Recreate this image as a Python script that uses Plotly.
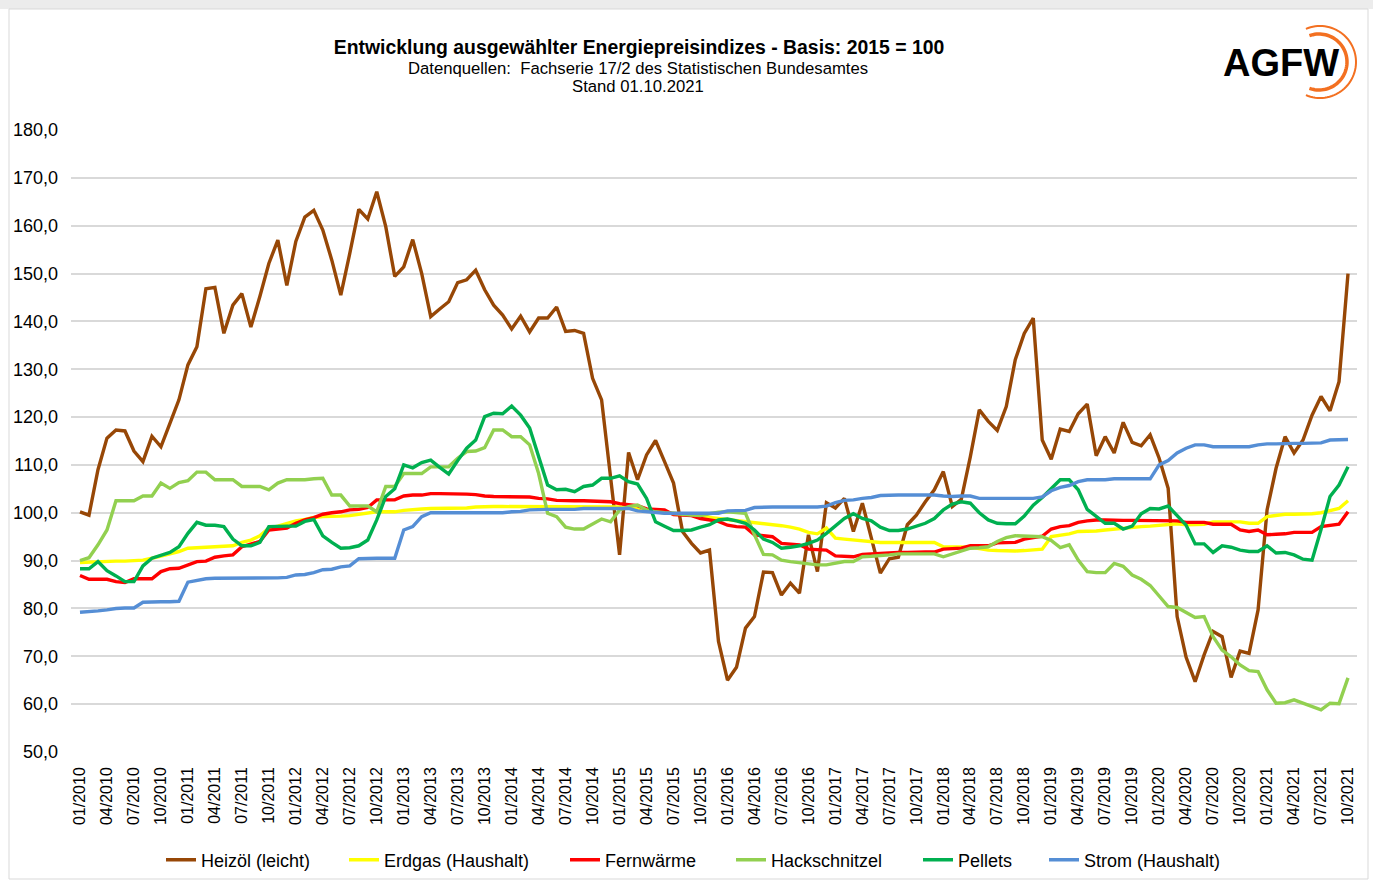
import numpy as np
import plotly.graph_objects as go

# ---------------- data ----------------
months = [
    "01/2010", "02/2010", "03/2010", "04/2010", "05/2010", "06/2010", "07/2010", "08/2010", "09/2010", "10/2010", "11/2010", "12/2010",
    "01/2011", "02/2011", "03/2011", "04/2011", "05/2011", "06/2011", "07/2011", "08/2011", "09/2011", "10/2011", "11/2011", "12/2011",
    "01/2012", "02/2012", "03/2012", "04/2012", "05/2012", "06/2012", "07/2012", "08/2012", "09/2012", "10/2012", "11/2012", "12/2012",
    "01/2013", "02/2013", "03/2013", "04/2013", "05/2013", "06/2013", "07/2013", "08/2013", "09/2013", "10/2013", "11/2013", "12/2013",
    "01/2014", "02/2014", "03/2014", "04/2014", "05/2014", "06/2014", "07/2014", "08/2014", "09/2014", "10/2014", "11/2014", "12/2014",
    "01/2015", "02/2015", "03/2015", "04/2015", "05/2015", "06/2015", "07/2015", "08/2015", "09/2015", "10/2015", "11/2015", "12/2015",
    "01/2016", "02/2016", "03/2016", "04/2016", "05/2016", "06/2016", "07/2016", "08/2016", "09/2016", "10/2016", "11/2016", "12/2016",
    "01/2017", "02/2017", "03/2017", "04/2017", "05/2017", "06/2017", "07/2017", "08/2017", "09/2017", "10/2017", "11/2017", "12/2017",
    "01/2018", "02/2018", "03/2018", "04/2018", "05/2018", "06/2018", "07/2018", "08/2018", "09/2018", "10/2018", "11/2018", "12/2018",
    "01/2019", "02/2019", "03/2019", "04/2019", "05/2019", "06/2019", "07/2019", "08/2019", "09/2019", "10/2019", "11/2019", "12/2019",
    "01/2020", "02/2020", "03/2020", "04/2020", "05/2020", "06/2020", "07/2020", "08/2020", "09/2020", "10/2020", "11/2020", "12/2020",
    "01/2021", "02/2021", "03/2021", "04/2021", "05/2021", "06/2021", "07/2021", "08/2021", "09/2021", "10/2021",
]

tick_labels = [
    "01/2010", "04/2010", "07/2010", "10/2010", "01/2011", "04/2011", "07/2011", "10/2011",
    "01/2012", "04/2012", "07/2012", "10/2012", "01/2013", "04/2013", "07/2013", "10/2013",
    "01/2014", "04/2014", "07/2014", "10/2014", "01/2015", "04/2015", "07/2015", "10/2015",
    "01/2016", "04/2016", "07/2016", "10/2016", "01/2017", "04/2017", "07/2017", "10/2017",
    "01/2018", "04/2018", "07/2018", "10/2018", "01/2019", "04/2019", "07/2019", "10/2019",
    "01/2020", "04/2020", "07/2020", "10/2020", "01/2021", "04/2021", "07/2021", "10/2021",
]

y_ticks = [50, 60, 70, 80, 90, 100, 110, 120, 130, 140, 150, 160, 170, 180]

heizoel = [
    100.2, 99.5, 109.0, 115.6, 117.3, 117.1, 112.9, 110.7, 116.0, 113.8,
    118.7, 123.6, 130.9, 134.7, 146.8, 147.1, 137.5, 143.4, 145.8, 138.8,
    145.2, 152.1, 157.0, 147.5, 156.7, 161.8, 163.2, 159.1, 152.8, 145.5,
    154.2, 163.4, 161.4, 167.1, 159.8, 149.4, 151.4, 157.1, 150.0, 141.0,
    142.6, 144.1, 148.1, 148.7, 150.7, 146.6, 143.4, 141.3, 138.4, 141.1,
    137.8, 140.7, 140.7, 143.0, 137.9, 138.1, 137.5, 128.1, 123.6, 108.0,
    91.2, 112.6, 106.9, 112.1, 115.1, 110.7, 106.2, 96.1, 93.6, 91.6,
    92.2, 73.1, 65.0, 67.7, 75.9, 78.3, 87.6, 87.5, 82.8, 85.3,
    83.2, 95.4, 87.7, 102.1, 101.0, 103.0, 96.1, 102.0, 95.0, 87.4,
    90.4, 90.7, 97.5, 99.5, 102.3, 104.8, 108.6, 101.3, 102.8, 111.7,
    121.5, 119.1, 117.2, 122.2, 132.0, 137.5, 140.7, 115.2, 111.2, 117.5,
    117.0, 120.7, 122.7, 111.9, 115.9, 112.5, 118.9, 114.7, 114.0, 116.3,
    111.4, 105.1, 78.3, 69.8, 64.7, 70.3, 75.2, 74.1, 65.6, 71.1,
    70.6, 79.7, 100.6, 109.3, 115.9, 112.5, 115.2, 120.4, 124.3, 121.3,
    127.4, 150.0,
]

erdgas = [
    89.6, 89.7, 89.8, 89.9, 89.9, 89.9, 90.0, 90.1, 90.5, 91.0,
    91.4, 91.9, 92.6, 92.7, 92.8, 93.0, 93.1, 93.1, 93.8, 94.3,
    95.2, 96.8, 97.2, 97.7, 98.3, 98.6, 99.0, 99.2, 99.2, 99.3,
    99.4, 99.7, 99.9, 100.2, 100.2, 100.2, 100.5, 100.7, 100.8, 100.9,
    100.9, 100.9, 100.9, 101.0, 101.2, 101.3, 101.3, 101.3, 101.3, 101.3,
    101.3, 101.2, 101.2, 101.2, 101.2, 101.2, 101.2, 101.2, 101.2, 101.2,
    101.2, 101.0, 100.8, 100.6, 100.3, 100.2, 100.0, 99.8, 99.6, 99.3,
    99.0, 98.8, 98.6, 98.3, 98.1, 97.9, 97.8, 97.6, 97.3, 97.0,
    96.6, 95.9, 95.6, 96.8, 94.7, 94.5, 94.3, 94.1, 94.0, 93.8,
    93.8, 93.8, 93.8, 93.8, 93.8, 93.8, 92.9, 92.9, 92.8, 92.8,
    92.5, 92.2, 92.1, 92.0, 92.0, 92.1, 92.2, 92.4, 95.0, 95.3,
    95.6, 96.1, 96.1, 96.2, 96.4, 96.6, 96.8, 96.9, 97.1, 97.2,
    97.4, 97.5, 97.7, 97.5, 97.5, 97.6, 98.1, 98.1, 98.1, 98.1,
    97.8, 97.8, 99.2, 99.5, 99.7, 99.7, 99.7, 99.8, 100.0, 100.4,
    100.9, 102.5,
]

fernwaerme = [
    86.9, 86.1, 86.1, 86.1, 85.6, 85.4, 86.2, 86.2, 86.2, 87.7,
    88.3, 88.4, 89.1, 89.8, 89.9, 90.7, 91.0, 91.2, 92.9, 93.5,
    94.0, 96.4, 96.6, 96.8, 97.8, 98.5, 99.0, 99.7, 100.0, 100.2,
    100.6, 100.7, 101.1, 102.7, 102.7, 102.7, 103.5, 103.7, 103.7, 104.0,
    104.0, 104.0, 103.9, 103.9, 103.8, 103.5, 103.4, 103.4, 103.4, 103.4,
    103.3, 103.0, 102.9, 102.6, 102.5, 102.5, 102.5, 102.4, 102.4, 102.3,
    101.9, 101.7, 101.5, 100.8, 100.7, 100.6, 99.6, 99.5, 99.4, 98.8,
    98.5, 98.2, 97.4, 97.1, 97.0, 95.4, 95.2, 95.0, 93.6, 93.4,
    93.3, 92.4, 92.3, 92.2, 91.0, 90.9, 90.8, 91.3, 91.4, 91.6,
    91.7, 91.7, 91.7, 91.8, 91.8, 91.8, 92.4, 92.5, 92.6, 93.1,
    93.1, 93.1, 93.7, 93.8, 93.8, 94.5, 94.8, 95.1, 96.6, 97.1,
    97.3, 98.0, 98.3, 98.5, 98.5, 98.4, 98.4, 98.4, 98.4, 98.4,
    98.3, 98.3, 98.3, 98.0, 98.0, 98.0, 97.6, 97.6, 97.6, 96.4,
    96.1, 96.4, 95.4, 95.5, 95.6, 95.9, 95.9, 95.9, 97.1, 97.4,
    97.6, 100.2,
]

hackschnitzel = [
    90.0, 90.6, 93.3, 96.4, 102.5, 102.5, 102.5, 103.5, 103.5, 106.2,
    105.1, 106.3, 106.7, 108.5, 108.5, 106.9, 106.9, 106.9, 105.5, 105.5,
    105.5, 104.8, 106.2, 106.9, 106.9, 106.9, 107.1, 107.2, 103.7, 103.7,
    101.4, 101.4, 101.4, 100.2, 105.5, 105.5, 108.2, 108.2, 108.2, 109.6,
    109.6, 109.6, 111.4, 112.8, 112.9, 113.6, 117.3, 117.3, 115.9, 115.9,
    114.2, 108.2, 99.9, 99.2, 97.0, 96.6, 96.6, 97.7, 98.7, 98.1,
    100.6, 101.3, 101.6, 100.6, 100.2, 100.0, 99.9, 99.7, 99.5, 99.4,
    99.8, 100.1, 100.2, 100.1, 99.9, 95.4, 91.3, 91.2, 90.1, 89.8,
    89.6, 89.3, 89.1, 89.1, 89.5, 89.8, 89.8, 90.8, 90.9, 91.0,
    91.2, 91.4, 91.4, 91.4, 91.4, 91.4, 90.8, 91.4, 92.0, 92.6,
    92.7, 92.9, 94.0, 94.8, 95.2, 95.1, 95.1, 95.0, 94.2, 92.7,
    93.3, 90.1, 87.7, 87.5, 87.5, 89.4, 88.8, 87.0, 86.1, 84.8,
    82.6, 80.4, 80.2, 79.1, 78.1, 78.3, 74.1, 71.3, 69.9, 68.2,
    67.0, 66.8, 63.0, 60.2, 60.3, 60.9, 60.2, 59.6, 58.8, 60.2,
    60.1, 65.5,
]

pellets = [
    88.3, 88.3, 89.8, 87.9, 86.8, 85.6, 85.6, 88.9, 90.5, 91.1,
    91.7, 92.9, 95.7, 98.0, 97.4, 97.4, 97.1, 94.5, 93.1, 93.1,
    93.8, 97.1, 97.2, 97.2, 97.2, 98.2, 98.6, 95.2, 93.8, 92.6,
    92.7, 93.1, 94.3, 98.5, 103.4, 105.0, 110.0, 109.4, 110.5, 111.0,
    109.5, 108.1, 110.9, 113.5, 115.2, 120.1, 120.8, 120.7, 122.3, 120.4,
    117.7, 111.7, 105.8, 104.8, 104.9, 104.4, 105.5, 105.8, 107.2, 107.2,
    107.7, 106.5, 106.0, 103.0, 98.1, 97.2, 96.3, 96.3, 96.4, 97.0,
    97.5, 98.5, 98.7, 98.3, 97.8, 96.4, 94.5, 93.8, 92.6, 92.8,
    93.1, 93.6, 94.3, 95.7, 97.2, 98.8, 99.8, 98.8, 98.3, 97.0,
    96.3, 96.3, 96.6, 97.2, 97.8, 98.8, 100.6, 101.8, 102.3, 102.0,
    100.0, 98.5, 97.8, 97.7, 97.7, 99.3, 101.6, 103.2, 105.1, 106.9,
    106.9, 104.8, 100.7, 99.2, 97.8, 97.8, 96.6, 97.2, 99.8, 100.9,
    100.8, 101.4, 99.5, 97.4, 93.5, 93.5, 91.7, 93.1, 92.8, 92.2,
    91.9, 91.9, 93.1, 91.6, 91.7, 91.2, 90.3, 90.1, 96.5, 103.4,
    105.8, 109.6,
]

strom = [
    79.2, 79.3, 79.5, 79.7, 80.0, 80.1, 80.1, 81.3, 81.4, 81.4,
    81.4, 81.5, 85.5, 85.8, 86.2, 86.3, 86.3, 86.3, 86.3, 86.3,
    86.3, 86.3, 86.4, 86.5, 87.0, 87.1, 87.5, 88.1, 88.2, 88.7,
    88.9, 90.4, 90.5, 90.5, 90.5, 90.5, 96.4, 97.1, 99.2, 100.0,
    100.0, 100.0, 100.0, 100.0, 100.0, 100.0, 100.0, 100.0, 100.2, 100.3,
    100.6, 100.7, 100.7, 100.7, 100.7, 100.7, 100.9, 100.9, 100.9, 100.9,
    100.9, 100.9, 100.4, 100.2, 100.0, 99.9, 99.9, 99.9, 99.9, 99.9,
    99.9, 99.9, 100.4, 100.5, 100.5, 101.1, 101.2, 101.2, 101.2, 101.2,
    101.2, 101.2, 101.2, 101.4, 102.1, 102.6, 102.7, 103.0, 103.2, 103.6,
    103.7, 103.7, 103.7, 103.7, 103.7, 103.7, 103.5, 103.4, 103.5, 103.5,
    103.0, 103.0, 103.0, 103.0, 103.0, 103.0, 103.0, 103.3, 104.6, 105.3,
    105.7, 106.5, 106.9, 106.9, 106.9, 107.1, 107.1, 107.1, 107.1, 107.1,
    110.0, 110.9, 112.5, 113.5, 114.2, 114.2, 113.8, 113.8, 113.8, 113.8,
    113.8, 114.2, 114.4, 114.4, 114.5, 114.5, 114.5, 114.6, 114.6, 115.2,
    115.2, 115.3,
]

series_names = ["Heizöl (leicht)", "Erdgas (Haushalt)", "Fernwärme",
                "Hackschnitzel", "Pellets", "Strom (Haushalt)"]
series_colors = ["#974706", "#FFFF00", "#FF0000", "#92D050", "#00B050", "#558ED5"]
series_values = [heizoel, erdgas, fernwaerme, hackschnitzel, pellets, strom]

# ---------------- layout geometry (pixels) ----------------
W, H = 1373, 880
ML, MR, MT, MB = 71, 16, 130, 128
PW = W - ML - MR
PH = H - MT - MB

def px(xp):
    return (xp - ML) / PW

def py(yp):
    return (H - MB - yp) / PH

FONT = "Arial, 'Liberation Sans', sans-serif"

# legend entry text start positions (pixels) in the reference
legend_text_x = [201, 384, 605, 771, 958, 1084]
legend_ids = ["legend", "legend2", "legend3", "legend4", "legend5", "legend6"]

fig = go.Figure()
for name, color, vals, lid in zip(series_names, series_colors, series_values, legend_ids):
    fig.add_trace(go.Scatter(
        x=months, y=vals, name=name, mode="lines",
        line=dict(color=color, width=3.4), legend=lid,
    ))

# AGFW logo arcs (decoration)
shapes = []
def arc_path(cx, cy, r, a0, a1, n=60):
    th = np.radians(np.linspace(a0, a1, n))
    xs = cx + r * np.cos(th)
    ys = cy + r * np.sin(th)
    pts = [f"{px(x):.5f},{py(y):.5f}" for x, y in zip(xs, ys)]
    return "M " + " L ".join(pts)

shapes.append(dict(type="path", xref="paper", yref="paper",
                   path=arc_path(1320, 62, 36, -113, 113),
                   line=dict(color="#F37021", width=2)))
shapes.append(dict(type="path", xref="paper", yref="paper",
                   path=arc_path(1319, 62, 28, -110, 110),
                   line=dict(color="#F37021", width=3.5)))
# chart frame
shapes.append(dict(type="rect", xref="paper", yref="paper", layer="below",
                   x0=px(0), x1=px(W), y0=py(0), y1=py(9),
                   fillcolor="#ECECEC", line=dict(width=0)))
shapes.append(dict(type="rect", xref="paper", yref="paper", layer="below",
                   x0=px(9), x1=px(1368), y0=py(879), y1=py(9),
                   fillcolor="rgba(0,0,0,0)", line=dict(color="#D9D9D9", width=1)))

annotations = [
    dict(text="Datenquellen:  Fachserie 17/2 des Statistischen Bundesamtes",
         x=px(638), y=py(68), xref="paper", yref="paper", showarrow=False,
         xanchor="center", yanchor="middle", font=dict(family=FONT, size=16.7, color="#000000")),
    dict(text="Stand 01.10.2021",
         x=px(638), y=py(87), xref="paper", yref="paper", showarrow=False,
         xanchor="center", yanchor="middle", font=dict(family=FONT, size=16.7, color="#000000")),
    dict(text="<b>AGFW</b>",
         x=px(1281), y=py(63), xref="paper", yref="paper", showarrow=False,
         xanchor="center", yanchor="middle", font=dict(family=FONT, size=38, color="#000000")),
]

layout_kwargs = {}
for lid, tx in zip(legend_ids, legend_text_x):
    layout_kwargs[lid] = dict(
        orientation="h", x=px(tx - 40), xanchor="left", y=py(860), yanchor="middle",
        font=dict(family=FONT, size=18, color="#000000"),
        bgcolor="rgba(0,0,0,0)", borderwidth=0,
    )

fig.update_layout(
    width=W, height=H,
    margin=dict(l=ML, r=MR, t=MT, b=MB, pad=0, autoexpand=False),
    paper_bgcolor="white", plot_bgcolor="white",
    separators=",.",
    title=dict(text="<b>Entwicklung ausgewählter Energiepreisindizes - Basis: 2015 = 100</b>",
               x=639 / W, y=1 - 47 / H, xref="container", yref="container",
               xanchor="center", yanchor="middle", automargin=False,
               font=dict(family=FONT, size=19.4, color="#000000")),
    xaxis=dict(type="category", categoryorder="array", categoryarray=months,
               range=[-1, 142], tickmode="array", tickvals=tick_labels, ticktext=tick_labels,
               tickangle=-90, showgrid=False, zeroline=False, showline=False,
               ticks="", ticklabelstandoff=11, automargin=False,
               tickfont=dict(family=FONT, size=16, color="#000000")),
    yaxis=dict(range=[50, 180], tickmode="array", tickvals=y_ticks, tickformat=".1f",
               showgrid=True, gridcolor="#D9D9D9", gridwidth=1.5, zeroline=False,
               showline=False, ticks="", ticklabelstandoff=12, automargin=False,
               tickfont=dict(family=FONT, size=18, color="#000000")),
    shapes=shapes,
    annotations=annotations,
    showlegend=True,
    **layout_kwargs,
)

fig.write_html("out.html", config={"displayModeBar": False},
               post_script="document.body.style.margin='0';document.body.style.overflow='hidden';")
